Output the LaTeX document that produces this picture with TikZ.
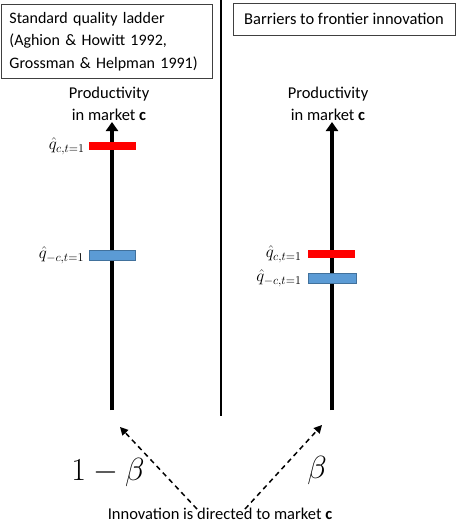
\documentclass[tikz,border=0pt]{standalone}
\usepackage{fix-cm}
\usepackage{fontspec}
\setmainfont{Carlito}
\usetikzlibrary{positioning, arrows.meta}

\definecolor{barred}{RGB}{255,0,0}
\definecolor{barblue}{RGB}{91,155,213}
\definecolor{barblueedge}{RGB}{65,113,156}

\begin{document}
\begin{tikzpicture}[
        x=1pt, y=-1pt,
        title_box/.style={draw=black!75, rectangle, line width=0.9pt, align=left, inner xsep=8pt, font=\fontsize{16}{22.5}\selectfont},
        axis_label/.style={align=center, inner sep=1pt, font=\fontsize{16.5}{22}\selectfont},
        q_label/.style={inner sep=0pt, font=\fontsize{17}{19}\selectfont},
        red_bar/.style={rectangle, fill=barred, minimum width=47pt, minimum height=8pt, inner sep=0pt},
        blue_bar/.style={rectangle, fill=barblue, draw=barblueedge, line width=0.6pt, minimum width=46pt, minimum height=10pt, inner sep=0pt},
        axis_arrow/.style={-{Triangle[length=9pt, width=12pt]}, line width=4.5pt},
        dashed_arrow/.style={-{Triangle[length=8pt, width=8pt]}, line width=1.5pt, dash pattern=on 5pt off 4pt},
        big_label/.style={inner sep=0pt, font=\fontsize{32}{34}\selectfont}
    ]
        \useasboundingbox (0,0) rectangle (457,525);

        % Titles
        \node (left_title) [title_box, anchor=north west, text width=195pt, minimum height=74pt] at (1,4) {Standard quality ladder\\(Aghion \& Howitt 1992,\\Grossman \& Helpman 1991)};
        \node (right_title) [title_box, align=center, font=\fontsize{16.5}{22}\selectfont, minimum width=222pt, minimum height=32pt] at (344,19) {Barriers to frontier innovation};

        % Axes
        \coordinate (left_bottom) at (112,410);
        \coordinate (left_top) at (112,122);
        \coordinate (right_bottom) at (332,410);
        \coordinate (right_top) at (332,122);
        \coordinate (divider_top) at (221,0);
        \coordinate (divider_bottom) at (221,416);
        \draw [axis_arrow] (left_bottom) -- (left_top);
        \draw [axis_arrow] (right_bottom) -- (right_top);
        \draw [line width=1.3pt] (divider_top) -- (divider_bottom);
        \node (left_prod) [axis_label, above=0pt of left_top, xshift=-3pt] {Productivity\\in market \textbf{c}};
        \node (right_prod) [axis_label, above=0pt of right_top, xshift=-4pt] {Productivity\\in market \textbf{c}};

        % Bars
        \node (left_red) [red_bar] at (112.5,146) {};
        \node (left_blue) [blue_bar] at (112.5,255) {};
        \node (right_red) [red_bar] at (331.5,254) {};
        \node (right_blue) [blue_bar, minimum width=48pt] at (332,278) {};
        \node (left_red_label) [q_label, left=4pt of left_red] {$\hat{q}_{c,t=1}$};
        \node (left_blue_label) [q_label, left=5pt of left_blue] {$\hat{q}_{-c,t=1}$};
        \node (right_red_label) [q_label, left=6pt of right_red] {$\hat{q}_{c,t=1}$};
        \node (right_blue_label) [q_label, left=6pt of right_blue] {$\hat{q}_{-c,t=1}$};

        % Innovation
        \node (directed) [font=\fontsize{16.5}{18}\selectfont, inner sep=0pt] at (220,514) {Innovation is directed to market \textbf{c}};
        \coordinate (left_tip) at (120,427);
        \coordinate (right_tip) at (322,425);
        \draw [dashed_arrow] ([xshift=-23pt, yshift=-1pt]directed.north) -- (left_tip);
        \draw [dashed_arrow] ([xshift=25pt, yshift=-1pt]directed.north) -- (right_tip);
        \node (one_minus_beta) [big_label] at (108,472) {$1-\beta$};
        \node (beta) [big_label] at (317,470) {$\beta$};
\end{tikzpicture}
\end{document}
